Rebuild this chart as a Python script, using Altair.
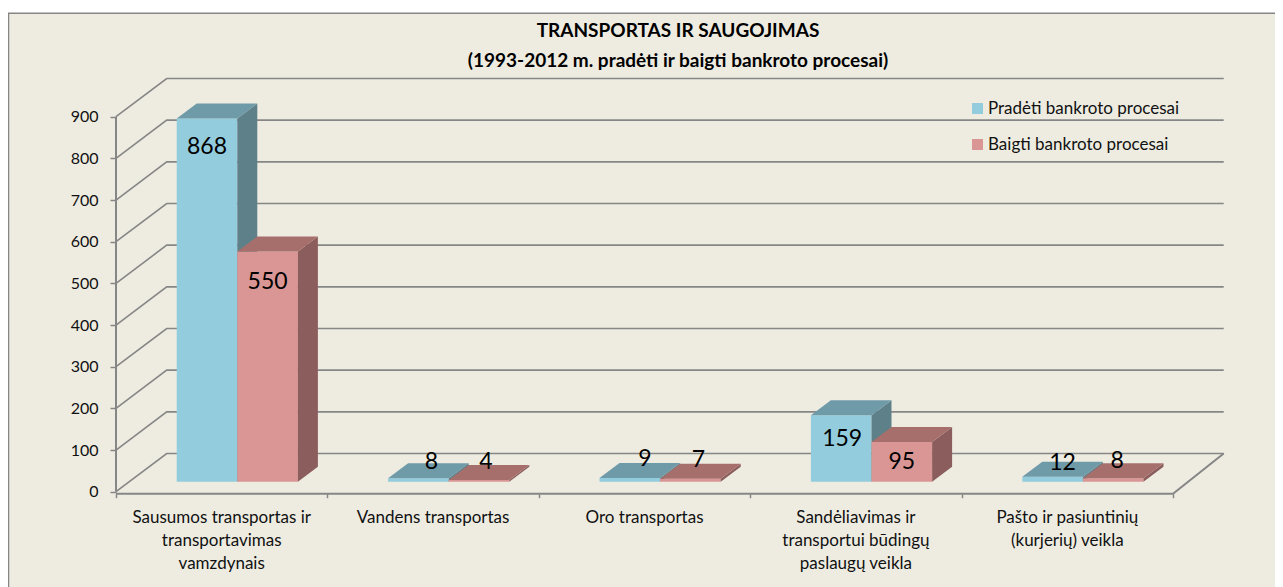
import altair as alt
import pandas as pd

categories = ["Sausumos transportas ir\ntransportavimas\nvamzdynais", "Vandens transportas", "Oro transportas",
              "Sandėliavimas ir\ntransportui būdingų\npaslaugų veikla", "Pašto ir pasiuntinių\n(kurjerių) veikla"]
started = [868, 8, 9, 159, 12]
finished = [550, 4, 7, 95, 8]
ticks = [0, 100, 200, 300, 400, 500, 600, 700, 800, 900]
title_lines = ["TRANSPORTAS IR SAUGOJIMAS", "(1993-2012 m. pradėti ir baigti bankroto procesai)"]
series_names = ["Pradėti bankroto procesai", "Baigti bankroto procesai"]

# layout
W, H = 1267, 579
PX_X, PX_Y = 211.4, 0.41667
FONT, GRAY, BG = "Lato", "#868686", "#EEECE1"
XDOM = [(8 - 116) / PX_X, (8 + W - 116) / PX_X]
YDOM = [(491.7 - 587) / PX_Y, (491.7 - 8) / PX_Y]
xs = alt.Scale(domain=XDOM, nice=False, zero=False)
ys = alt.Scale(domain=YDOM, nice=False, zero=False)
BACK_X, BACK_Y = 50.7 / PX_X, 38.2 / PX_Y
RIGHT = 5 + BACK_X
FLOOR = -2 / PX_Y
BASE = 10 / PX_Y
LEFT_GAP, BAR_W = 60.7 / PX_X, 60.6 / PX_X
DX, DY = 20 / PX_X, 15 / PX_Y
GAIN = 1.004
label_shift = [[(0, -28), (0, -30)], [(13, 16), (7, 18)], [(15, 19), (8, 19)], [(1, -24), (0, -20)], [(10, 14), (4, 17)]]

part_colors = {series_names[0]: "#93CDDD", series_names[1]: "#D99694",
               "s0": "#5E8089", "s1": "#8B5E5D", "t0": "#6F9AA8", "t1": "#A66F6C"}

rows, labels = [], []
for i in range(5):
    for k, vals in enumerate([started, finished]):
        v = vals[i]
        x0 = i + LEFT_GAP + k * BAR_W
        x1 = x0 + BAR_W
        top = BASE + v * GAIN
        polys = [
            (series_names[k], [(x0, BASE, top), (x1, BASE, top)]),
            (f"s{k}", [(x1, BASE, top), (x1 + DX, BASE + DY, top + DY)]),
            (f"t{k}", [(x0, top, top), (x0 + DX, top, top + DY), (x1, top, top + DY), (x1 + DX, top + DY, top + DY)]),
        ]
        for part, pts in polys:
            for x, a, b in pts:
                rows.append(dict(poly=f"{i}-{k}-{part}", part=part, series=k, x=x, y=a, y2=b))
        sx, sy = label_shift[i][k]
        labels.append(dict(x=(x0 + x1) / 2 + sx / PX_X, y=top + sy / PX_Y, t=str(v)))
bars = pd.DataFrame(rows)

grid = pd.DataFrame([dict(level=t, x=x, y=y) for t in ticks
                     for x, y in [(0, t), (BACK_X, t + BACK_Y), (RIGHT, t + BACK_Y)]])
frame = pd.DataFrame([dict(x=XDOM[0], x2=XDOM[1], y=YDOM[0], y2=(491.7 - 13) / PX_Y)])
axes = pd.DataFrame([
    dict(id="y", x=0, y=0), dict(id="y", x=0, y=900),
    dict(id="x", x=0, y=FLOOR), dict(id="x", x=5, y=FLOOR), dict(id="x", x=RIGHT, y=BACK_Y),
])
cat_df = pd.DataFrame({"x": [i + 0.5 for i in range(5)], "y": [(491.7 - 510) / PX_Y] * 5, "t": categories})

x_axis = alt.Axis(values=[0, 1, 2, 3, 4, 5], labels=False, domain=False, grid=False, tickColor=GRAY, tickWidth=1.5,
                  tickSize=4, offset=-(H - 485.7), zindex=1, title=None)
y_axis = alt.Axis(values=ticks, domain=False, grid=False, tickColor=GRAY, tickWidth=1.5, tickSize=6, labelPadding=12,
                  labelFont=FONT, labelFontSize=16, labelColor="#111111", offset=-108, zindex=1, title=None)
X = alt.X("x:Q", scale=xs, axis=x_axis)
Y = alt.Y("y:Q", scale=ys, axis=y_axis)

bg = alt.Chart(frame).mark_rect(color=BG, stroke=None).encode(x=X, x2="x2:Q", y=Y, y2="y2:Q")
left_edge = alt.Chart(frame).mark_rule(color=GRAY, strokeWidth=1.5).encode(x=alt.value(0.5), y=Y, y2="y2:Q")
top_edge = alt.Chart(frame).mark_rule(color=GRAY, strokeWidth=1.5).encode(y=alt.value(5.2), x=X, x2="x2:Q")

gridlines = alt.Chart(grid).mark_line(color=GRAY, strokeWidth=1.6).encode(x=X, y=Y, detail="level:N")
axis_lines = alt.Chart(axes).mark_line(color=GRAY, strokeWidth=2).encode(x=X, y=Y, detail="id:N")

def faces(k):
    return alt.Chart(bars[bars.series == k]).mark_area(interpolate="linear").encode(
        x=X, y=alt.Y("y:Q", scale=ys, axis=y_axis, stack=None), y2="y2:Q", detail="poly:N",
        color=alt.Color("part:N", scale=alt.Scale(domain=list(part_colors), range=list(part_colors.values())),
                        legend=alt.Legend(values=series_names, title=None, orient="none", legendX=961, legendY=92,
                                          symbolType="square", symbolSize=121, symbolStrokeWidth=0, rowPadding=18,
                                          labelFont=FONT, labelFontSize=17, labelColor="#111111", labelOffset=2,
                                          labelLimit=400)))

value_text = alt.Chart(pd.DataFrame(labels)).mark_text(font=FONT, fontSize=23, color="black").encode(x=X, y=Y, text="t:N")
cat_text = alt.Chart(cat_df).mark_text(font=FONT, fontSize=17, color="#111111", lineBreak="\n", lineHeight=23,
                                       baseline="top").encode(x=X, y=Y, text="t:N")

chart = alt.layer(bg, left_edge, top_edge, gridlines, axis_lines, faces(0), faces(1), value_text, cat_text).properties(
    width=W, height=H, padding=0, autosize=alt.AutoSizeParams(type="none"), background="white",
    title=alt.TitleParams(text=title_lines, anchor="middle", frame="group", offset=-63, dx=36.5, font=FONT, fontSize=19,
                          fontWeight="bold", color="black", lineHeight=30),
).configure_view(stroke=None)

chart.save("out.html", embed_options={"renderer": "svg", "actions": False})
